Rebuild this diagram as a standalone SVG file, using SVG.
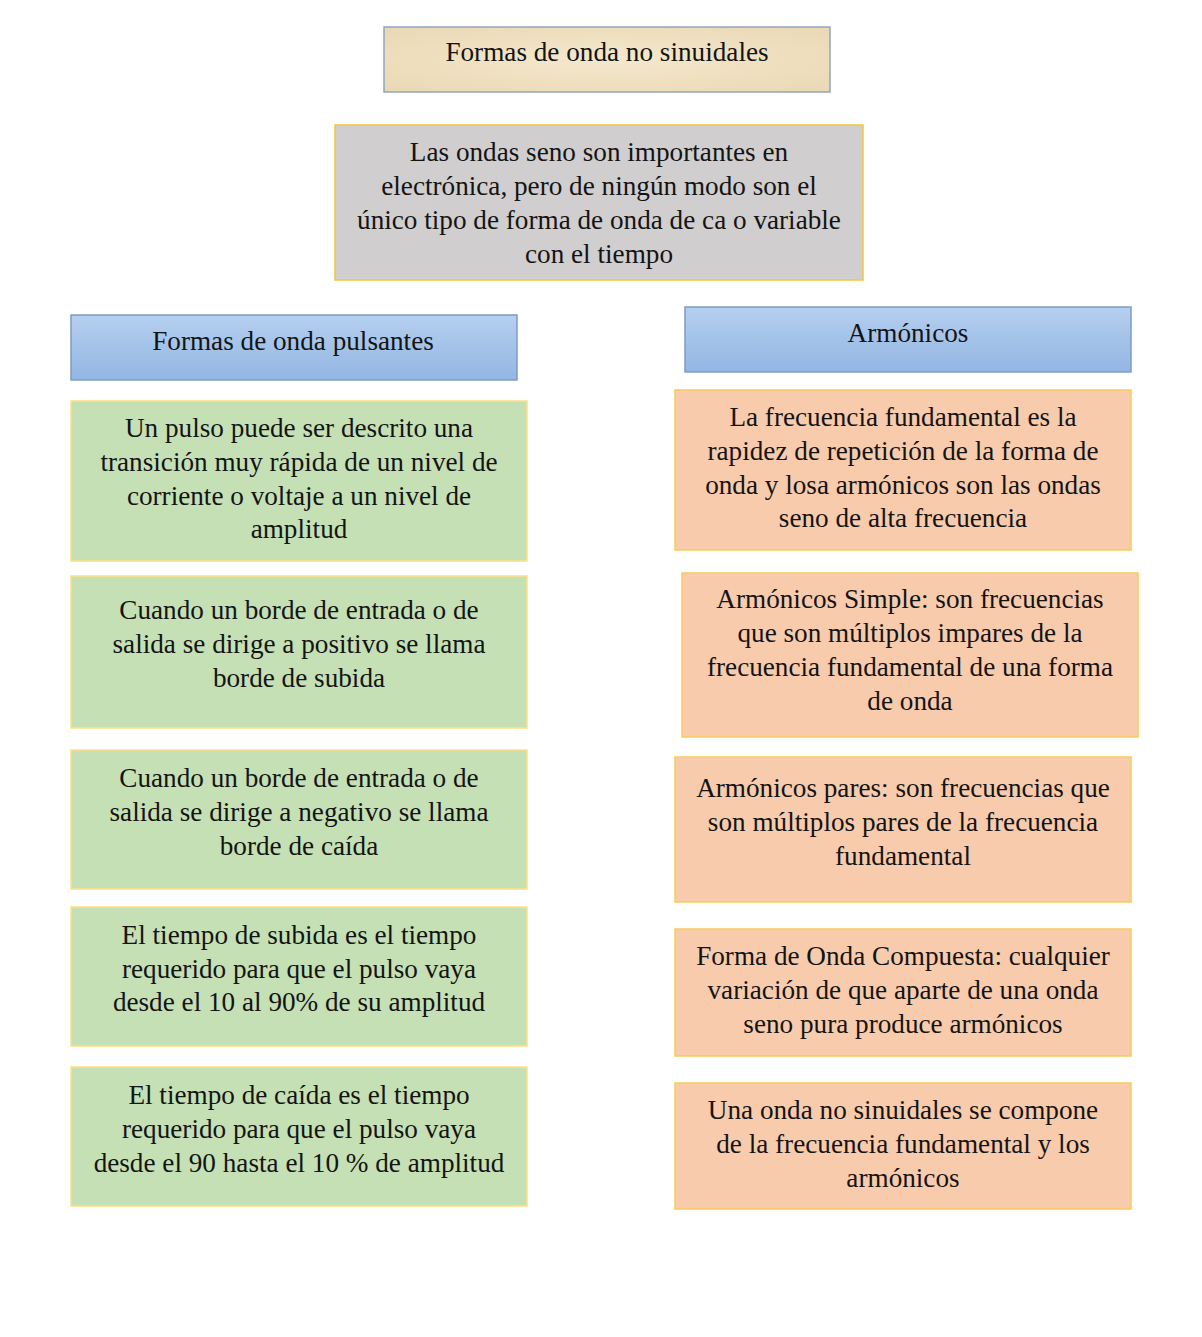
<svg xmlns="http://www.w3.org/2000/svg" width="1202" height="1337" viewBox="0 0 1202 1337">
<defs>
<linearGradient id="blueGrad" x1="0" y1="0" x2="0" y2="1">
<stop offset="0" stop-color="#b5cfef"/>
<stop offset="1" stop-color="#93b6e3"/>
</linearGradient>
<radialGradient id="parch" cx="0.5" cy="0.5" r="0.7">
<stop offset="0" stop-color="#f4e8cd"/>
<stop offset="1" stop-color="#ead8b4"/>
</radialGradient>
</defs>
<style>
text { font-family: "Liberation Serif", "Times New Roman", serif; font-size: 27.2px; fill: #141414; text-anchor: middle; }
.title { fill: url(#parch); stroke: #8ea7be; stroke-width: 1.5; }
.grey { fill: #d0cece; stroke: #f4c63d; stroke-width: 1.5; }
.blue { fill: url(#blueGrad); stroke: #7c9cc3; stroke-width: 1.5; }
.green { fill: #c5e0b4; stroke: #ffe082; stroke-width: 1.5; }
.orange { fill: #f8cbad; stroke: #f9cb5a; stroke-width: 1.5; }
</style>
<rect width="1202" height="1337" fill="#ffffff"/>
<g id="connectors"></g>
<g id="title">
<rect class="title" x="384" y="27" width="446" height="65"/>
<text x="607" y="61">Formas de onda no sinuidales</text>
</g>
<g id="intro">
<rect class="grey" x="335" y="125" width="528" height="155"/>
<text x="599" y="161">Las ondas seno son importantes en</text>
<text x="599" y="195">electrónica, pero de ningún modo son el</text>
<text x="599" y="229">único tipo de forma de onda de ca o variable</text>
<text x="599" y="263">con el tiempo</text>
</g>
<g id="pulsantes">
<rect class="blue" x="71" y="315" width="446" height="65"/>
<text x="293" y="350">Formas de onda pulsantes</text>
</g>
<g id="armonicos">
<rect class="blue" x="685" y="307" width="446" height="65"/>
<text x="908" y="342">Armónicos</text>
</g>
<g id="g1">
<rect class="green" x="71" y="401" width="456" height="160"/>
<text x="299" y="437">Un pulso puede ser descrito una</text>
<text x="299" y="471">transición muy rápida de un nivel de</text>
<text x="299" y="505">corriente o voltaje a un nivel de</text>
<text x="299" y="538">amplitud</text>
</g>
<g id="g2">
<rect class="green" x="71" y="576" width="456" height="152"/>
<text x="299" y="619">Cuando un borde de entrada o de</text>
<text x="299" y="653">salida se dirige a positivo se llama</text>
<text x="299" y="687">borde de subida</text>
</g>
<g id="g3">
<rect class="green" x="71" y="750" width="456" height="139"/>
<text x="299" y="787">Cuando un borde de entrada o de</text>
<text x="299" y="821">salida se dirige a negativo se llama</text>
<text x="299" y="855">borde de caída</text>
</g>
<g id="g4">
<rect class="green" x="71" y="907" width="456" height="139"/>
<text x="299" y="944">El tiempo de subida es el tiempo</text>
<text x="299" y="978">requerido para que el pulso vaya</text>
<text x="299" y="1011">desde el 10 al 90% de su amplitud</text>
</g>
<g id="g5">
<rect class="green" x="71" y="1067" width="456" height="139"/>
<text x="299" y="1104">El tiempo de caída es el tiempo</text>
<text x="299" y="1138">requerido para que el pulso vaya</text>
<text x="299" y="1172">desde el 90 hasta el 10 % de amplitud</text>
</g>
<g id="o1">
<rect class="orange" x="675" y="390" width="456" height="160"/>
<text x="903" y="426">La frecuencia fundamental es la</text>
<text x="903" y="460">rapidez de repetición de la forma de</text>
<text x="903" y="494">onda y losa armónicos son las ondas</text>
<text x="903" y="527">seno de alta frecuencia</text>
</g>
<g id="o2">
<rect class="orange" x="682" y="573" width="456" height="164"/>
<text x="910" y="608">Armónicos Simple: son frecuencias</text>
<text x="910" y="642">que son múltiplos impares de la</text>
<text x="910" y="676">frecuencia fundamental de una forma</text>
<text x="910" y="710">de onda</text>
</g>
<g id="o3">
<rect class="orange" x="675" y="757" width="456" height="145"/>
<text x="903" y="797">Armónicos pares: son frecuencias que</text>
<text x="903" y="831">son múltiplos pares de la frecuencia</text>
<text x="903" y="865">fundamental</text>
</g>
<g id="o4">
<rect class="orange" x="675" y="929" width="456" height="127"/>
<text x="903" y="965">Forma de Onda Compuesta: cualquier</text>
<text x="903" y="999">variación de que aparte de una onda</text>
<text x="903" y="1033">seno pura produce armónicos</text>
</g>
<g id="o5">
<rect class="orange" x="675" y="1083" width="456" height="126"/>
<text x="903" y="1119">Una onda no sinuidales se compone</text>
<text x="903" y="1153">de la frecuencia fundamental y los</text>
<text x="903" y="1187">armónicos</text>
</g>
</svg>
